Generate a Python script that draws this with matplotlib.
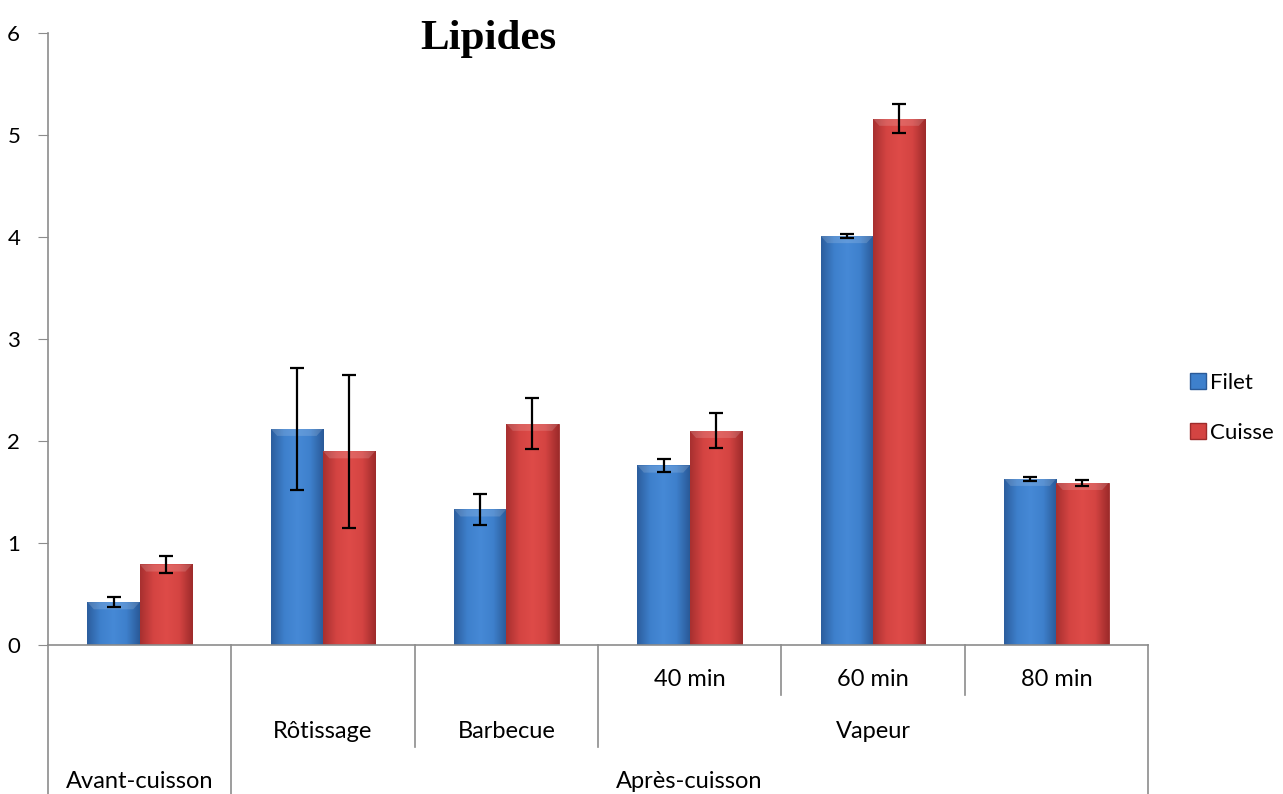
import numpy as np
import matplotlib
import matplotlib.pyplot as plt
from matplotlib.transforms import blended_transform_factory
from matplotlib.colors import LinearSegmentedColormap
from matplotlib.lines import Line2D
from matplotlib.patches import Patch

plt.switch_backend('Agg')

# Data
conditions = ['Avant', 'Rôtissage', 'Barbecue', '40 min', '60 min', '80 min']
filet = [0.42, 2.12, 1.33, 1.76, 4.01, 1.63]
filet_err = [0.05, 0.60, 0.15, 0.06, 0.02, 0.02]
cuisse = [0.79, 1.90, 2.17, 2.10, 5.16, 1.59]
cuisse_err = [0.08, 0.75, 0.25, 0.17, 0.14, 0.03]

level1 = ['', '', '', '40 min', '60 min', '80 min']
level2 = [('Rôtissage', 1, 2), ('Barbecue', 2, 3), ('Vapeur', 3, 6)]
level3 = [('Avant-cuisson', 0, 1), ('Après-cuisson', 1, 6)]

FONT = 'Lato'

fig = plt.figure(figsize=(12.83, 7.94), dpi=100)
ax = fig.add_axes([48 / 1283, 149 / 794, 1100 / 1283, 612 / 794])

x = np.arange(len(conditions)) + 0.5
w = 0.285

blue_cmap = LinearSegmentedColormap.from_list(
    'b', ['#2c5e9e', '#3e80cc', '#4689d6', '#3e80cc', '#2a5a98'])
red_cmap = LinearSegmentedColormap.from_list(
    'r', ['#a83030', '#d44442', '#de4b48', '#d44442', '#9e2b2b'])


def draw_bars(xpos, vals, errs, base, cmap, edge):
    bars = ax.bar(xpos, vals, w, color=base, edgecolor=edge, linewidth=0.6,
                  zorder=2)
    grad = np.linspace(0, 1, 64).reshape(1, -1)
    for b in bars:
        x0, h = b.get_x(), b.get_height()
        im = ax.imshow(grad, cmap=cmap, aspect='auto', zorder=2.5,
                       extent=[x0, x0 + w, 0, h])
        im.set_clip_path(b)
        # lighter bevel on top
        bev = min(0.07, h * 0.3)
        ax.fill([x0, x0 + w, x0 + w - 0.035, x0 + 0.035],
                [h, h, h - bev, h - bev], color='white', alpha=0.15,
                lw=0, zorder=2.6)
    ax.errorbar(xpos, vals, yerr=errs, fmt='none', ecolor='black',
                elinewidth=1.6, capsize=5, capthick=1.6, zorder=3)
    return bars


draw_bars(x - w / 2, filet, filet_err, '#3e80cc', blue_cmap, '#2a5a98')
draw_bars(x + w / 2, cuisse, cuisse_err, '#d44442', red_cmap, '#9e2b2b')

ax.set_xlim(0, 6)
ax.set_ylim(0, 6)
ax.set_yticks(range(7))
ax.set_xticks([])
for s in ['top', 'right']:
    ax.spines[s].set_visible(False)
ax.spines['left'].set_color('#8c8c8c')
ax.spines['bottom'].set_color('#8c8c8c')
ax.spines['left'].set_linewidth(1.2)
ax.spines['bottom'].set_linewidth(1.2)
ax.tick_params(axis='y', length=7, color='#8c8c8c', labelsize=16, pad=13)
for lab in ax.get_yticklabels():
    lab.set_fontfamily(FONT)

ax.set_title('Lipides', fontsize=31, fontweight='bold', family='Liberation Serif',
             x=0.4, y=0.96)

# Hierarchical category axis
tr = blended_transform_factory(ax.transData, fig.transFigure)
font = dict(fontsize=17, family=FONT, ha='center', va='center',
            transform=tr)
line = dict(color='#8c8c8c', lw=1.2, transform=tr, clip_on=False)

y0 = 149 / 794
for i, lab in enumerate(level1):
    if lab:
        fig.text(x[i], 1 - 680 / 794, lab, **font)
for lab, a, b in level2:
    fig.text((a + b) / 2, 1 - 731 / 794, lab, **font)
for lab, a, b in level3:
    fig.text((a + b) / 2, 1 - 782 / 794, lab, **font)

ends = {0: 0.0, 1: 0.0, 2: 1 - 747 / 794, 3: 1 - 747 / 794,
        4: 1 - 695 / 794, 5: 1 - 695 / 794, 6: 0.0}
for xi, yb in ends.items():
    fig.add_artist(Line2D([xi, xi], [y0, yb], **line))

# Legend
handles = [Patch(facecolor='#3e80cc', edgecolor='#2a5a98', label='Filet'),
           Patch(facecolor='#d44442', edgecolor='#9e2b2b', label='Cuisse')]
fig.legend(handles=handles, loc='center left',
           bbox_to_anchor=(1190 / 1283, 1 - 408 / 794),
           frameon=False, prop={'family': FONT, 'size': 16},
           handlelength=0.7, handleheight=0.7, handletextpad=0.2,
           labelspacing=1.35, borderpad=0, borderaxespad=0)

fig.savefig('out.png', dpi=100)
